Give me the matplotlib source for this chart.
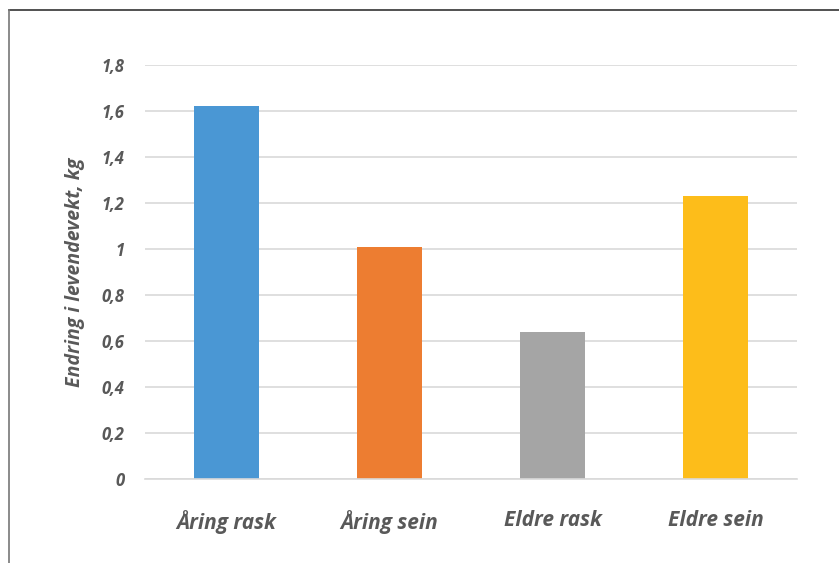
import matplotlib.pyplot as plt
from matplotlib.lines import Line2D

# Data
categories = ["Åring rask", "Åring sein", "Eldre rask", "Eldre sein"]
values = [1.62, 1.01, 0.64, 1.23]
colors = ["#4a97d4", "#ed7d31", "#a5a5a5", "#fdbd1a"]
yticks = [0, 0.2, 0.4, 0.6, 0.8, 1.0, 1.2, 1.4, 1.6, 1.8]
ytick_labels = ["0", "0,2", "0,4", "0,6", "0,8", "1", "1,2", "1,4", "1,6", "1,8"]

plt.rcParams["font.family"] = ["Open Sans", "DejaVu Sans"]
text_color = "#595959"

fig = plt.figure(figsize=(8.39, 5.63), dpi=100)
ax = fig.add_axes([0.1728, 0.149, 0.7772, 0.7355])

x = range(len(categories))
ax.bar(x, values, width=0.4, color=colors, zorder=2)

ax.set_xlim(-0.5, 3.5)
ax.set_ylim(0, 1.8)
ax.set_yticks(yticks)
ax.set_yticklabels(ytick_labels)
ax.set_xticks(list(x))
ax.set_xticklabels(categories)

ax.grid(axis="y", color="#d9d9d9", linewidth=1.2, zorder=0)
for s in ["top", "right", "left"]:
    ax.spines[s].set_visible(False)
ax.spines["bottom"].set_color("#d9d9d9")
ax.spines["bottom"].set_linewidth(1.2)

ax.tick_params(axis="both", length=0, colors=text_color)
ax.tick_params(axis="y", pad=15)
ax.tick_params(axis="x", pad=22)
for lbl in ax.get_yticklabels():
    lbl.set_fontsize(12)
    lbl.set_fontweight("bold")
    lbl.set_fontstyle("italic")
for lbl in ax.get_xticklabels():
    lbl.set_fontsize(15)
    lbl.set_fontweight("bold")
    lbl.set_fontstyle("italic")

ax.set_ylabel("Endring i levendevekt, kg", fontsize=14, fontweight="bold",
              fontstyle="italic", color=text_color, labelpad=12)

# outer frame lines (top and left)
fig.add_artist(Line2D([9 / 839, 1], [1 - 10 / 563, 1 - 10 / 563],
                      transform=fig.transFigure, color="#333333", linewidth=1.2))
fig.add_artist(Line2D([9 / 839, 9 / 839], [0, 1 - 10 / 563],
                      transform=fig.transFigure, color="#777777", linewidth=1.2))

fig.savefig("out.png", dpi=100)
